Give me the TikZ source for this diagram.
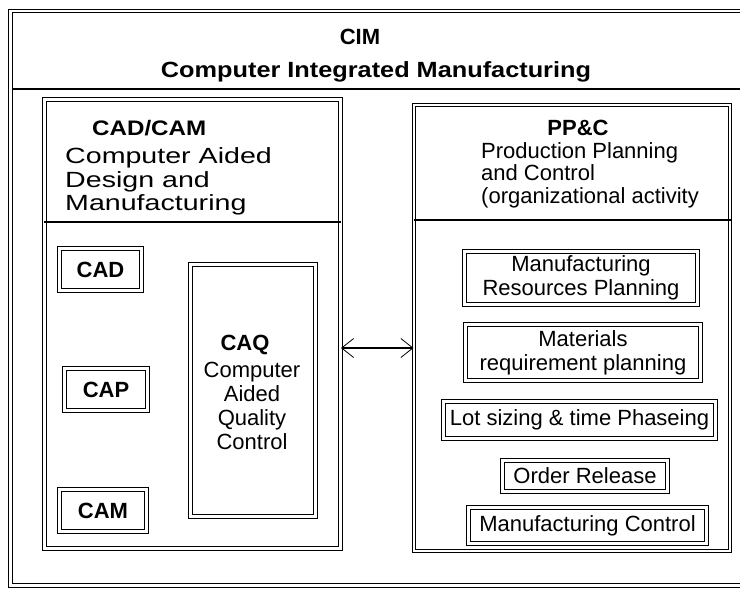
\documentclass[tikz,border=0pt]{standalone}
\usepackage{fontspec}
\setmainfont{Liberation Sans}
\newfontfamily\widefont[FakeStretch=1.3]{Liberation Sans}
\newfontfamily\headfont[FakeStretch=1.15]{Liberation Sans}
\usetikzlibrary{arrows.meta}
\newcommand\bodysize{\fontsize{22}{24}\selectfont}

\tikzset{
  frameline/.style={draw, double, double distance=2.6pt, line width=0.9pt},
  dbox/.style={draw, double, double distance=2.2pt, line width=1pt,
               inner sep=0pt, align=center, font=\bodysize},
  sepline/.style={line width=1.2pt},
  txt/.style={inner sep=0pt, anchor=base west, font=\bodysize},
  ctxt/.style={inner sep=0pt, anchor=base, font=\bodysize},
  link/.style={line width=1.4pt,
    {Straight Barb[length=12pt,width=19pt,line width=0.8pt]}-{Straight Barb[length=12pt,width=19pt,line width=0.8pt]}}
}

\begin{document}
\begin{tikzpicture}[x=1pt,y=-1pt]
\useasboundingbox (0,0) rectangle (740,589);
\clip (0,0) rectangle (740,589);
\fill[white] (0,0) rectangle (740,589);

% outer frame and title band
\coordinate (fnw) at (10.5,11);
\coordinate (fse) at (770,585.5);
\draw[frameline] (fnw) rectangle (fse);
\coordinate (sepl) at (13,89);
\coordinate (sepr) at (770,89);
\draw[sepline] (sepl) -- (sepr);
\node[ctxt, font=\bodysize\bfseries] (cim) at (360,45) {CIM};
\node[ctxt, font=\fontsize{22}{24}\headfont\bfseries] (cimfull) at (376,77) {Computer Integrated Manufacturing};

% CAD/CAM block
\node[dbox, minimum width=296pt, minimum height=449pt] (lbox) at (192.5,324) {};
\coordinate (lsep) at (0,222);
\draw[sepline] (lbox.west |- lsep) -- (lbox.east |- lsep);
\node[txt, font=\fontsize{21}{24}\headfont\bfseries] (cadcam) at (92,135) {CAD/CAM};
\node[txt, font=\fontsize{22}{24}\widefont] (l1) at (65,163) {Computer Aided};
\node[txt, font=\fontsize{22}{24}\widefont] (l2) at (65,187) {Design and};
\node[txt, font=\fontsize{22}{24}\widefont] (l3) at (65,210) {Manufacturing};

\node[dbox, font=\bodysize\bfseries, minimum width=82pt, minimum height=42pt] (cad) at (100.5,269.5) {CAD};
\node[dbox, font=\bodysize\bfseries, minimum width=83pt, minimum height=42pt] (cap) at (106,389.5) {CAP};
\node[dbox, font=\bodysize\bfseries, minimum width=87pt, minimum height=42pt] (cam) at (103,510.5) {CAM};
\node[dbox, minimum width=125pt, minimum height=252pt] (caq) at (253,390.5) {};
\node[ctxt, font=\bodysize\bfseries] (caq1) at (245,350) {CAQ};
\node[ctxt] (caq2) at (252,377) {Computer};
\node[ctxt] (caq3) at (252,401) {Aided};
\node[ctxt] (caq4) at (252,425) {Quality};
\node[ctxt] (caq5) at (252,449) {Control};

% PP&C block
\node[dbox, minimum width=316pt, minimum height=446pt] (rbox) at (572,328) {};
\coordinate (rsep) at (0,220);
\draw[sepline] (rbox.west |- rsep) -- (rbox.east |- rsep);
\node[ctxt, font=\bodysize\bfseries] (ppc) at (578,135) {PP\&C};
\node[txt] (r1) at (481,158) {Production Planning};
\node[txt] (r2) at (481,180) {and Control};
\node[txt] (r3) at (481,203) {(organizational activity};

\node[dbox, minimum width=233pt, minimum height=53pt] (mrp) at (581,278) {Manufacturing\\Resources Planning};
\node[dbox, minimum width=235pt, minimum height=56pt] (mat) at (583,352.5) {Materials\\requirement planning};
\node[dbox, minimum width=272pt, minimum height=37pt] (lot) at (579.5,420) {Lot sizing \& time Phaseing};
\node[dbox, minimum width=165pt, minimum height=31pt] (ord) at (585,476) {Order Release};
\node[dbox, minimum width=238pt, minimum height=36pt] (mfc) at (587.5,525.5) {Manufacturing Control};

% two-way link between the blocks
\coordinate (linky) at (0,348);
\draw[link] (lbox.east |- linky) -- (rbox.west |- linky);
\end{tikzpicture}
\end{document}
